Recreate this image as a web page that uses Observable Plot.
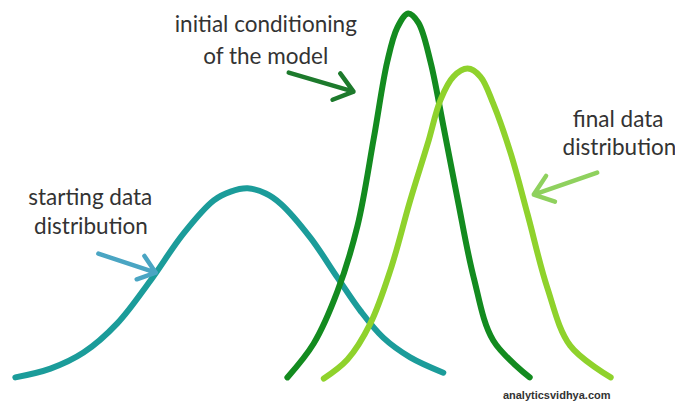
<!DOCTYPE html>
<html>
<head>
<meta charset="utf-8">
<script src="https://cdn.jsdelivr.net/npm/d3@7"></script>
<script src="https://cdn.jsdelivr.net/npm/@observablehq/plot@0.6"></script>
<style>
  html, body { margin: 0; padding: 0; background: #fff; }
  #chart svg { display: block; }
</style>
</head>
<body>
<div id="chart"></div>
<script>
// Curves: x position (arbitrary units 0–10), height (0–1)
const startingX = [0.22, 0.74, 1.23, 1.73, 2.22, 2.71, 3.16, 3.41, 3.66, 3.93, 4.15, 4.59, 4.99, 5.33, 5.67, 6.07, 6.56];
const startingY = [0.003, 0.027, 0.071, 0.151, 0.268, 0.397, 0.488, 0.512, 0.521, 0.507, 0.479, 0.386, 0.277, 0.186, 0.112, 0.058, 0.016];

const initialX = [4.25, 4.64, 4.99, 5.29, 5.53, 5.73, 5.88, 6.04, 6.19, 6.37, 6.56, 6.77, 7.01, 7.30, 7.84];
const initialY = [0.003, 0.096, 0.238, 0.419, 0.658, 0.868, 0.962, 1.0, 0.975, 0.868, 0.693, 0.493, 0.277, 0.104, 0.003];

const finalX = [4.79, 5.14, 5.48, 5.78, 6.07, 6.33, 6.52, 6.71, 6.92, 7.11, 7.30, 7.56, 7.81, 8.10, 8.44, 9.04];
const finalY = [0.0, 0.052, 0.151, 0.299, 0.488, 0.644, 0.764, 0.827, 0.849, 0.827, 0.753, 0.616, 0.449, 0.249, 0.090, 0.003];

// Annotation arrows (start -> tip)
const arrowNames = ["starting", "initial", "final"];
const arrowX1 = [1.45, 4.27, 8.84];
const arrowY1 = [0.342, 0.838, 0.564];
const arrowX2 = [2.30, 5.23, 7.90];
const arrowY2 = [0.290, 0.786, 0.504];

// Labels (one entry per line)
const labelText = ["initial conditioning", "of the model", "final data", "distribution", "starting data", "distribution"];
const labelX = [3.93, 3.93, 9.15, 9.17, 1.33, 1.34];
const labelY = [0.948, 0.863, 0.688, 0.611, 0.474, 0.395];

const watermark = "analyticsvidhya.com";
const watermarkX = 8.24;
const watermarkY = -0.055;

const curveColors = { starting: "#1b9c9a", initial: "#138b1f", final: "#8fd22c" };
const arrowColors = { starting: "#4aa5c3", initial: "#1d7a2c", final: "#8fd15e" };

const toPts = (xs, ys, name) => xs.map((x, i) => ({ x, y: ys[i], name }));
const curves = [
  ...toPts(startingX, startingY, "starting"),
  ...toPts(finalX, finalY, "final"),
  ...toPts(initialX, initialY, "initial")
];
const arrows = arrowNames.map((name, i) => ({ name, x1: arrowX1[i], y1: arrowY1[i], x2: arrowX2[i], y2: arrowY2[i] }));
const labels = labelText.map((t, i) => ({ t, x: labelX[i], y: labelY[i] }));

const chart = Plot.plot({
  width: 675,
  height: 402,
  marginTop: 13,
  marginBottom: 24,
  marginLeft: 0,
  marginRight: 0,
  x: { domain: [0, 10], axis: null },
  y: { domain: [0, 1], axis: null },
  style: { background: "#fff", overflow: "visible" },
  marks: [
    Plot.line(curves.filter(d => d.name === "starting"), { x: "x", y: "y", stroke: curveColors.starting, strokeWidth: 6, curve: "catmull-rom", strokeLinecap: "round" }),
    Plot.line(curves.filter(d => d.name === "initial"), { x: "x", y: "y", stroke: curveColors.initial, strokeWidth: 6, curve: "catmull-rom", strokeLinecap: "round" }),
    Plot.line(curves.filter(d => d.name === "final"), { x: "x", y: "y", stroke: curveColors.final, strokeWidth: 6, curve: "catmull-rom", strokeLinecap: "round" }),
    Plot.arrow(arrows, { x1: "x1", y1: "y1", x2: "x2", y2: "y2", stroke: d => arrowColors[d.name], strokeWidth: 4.5, headLength: 13, headAngle: 75, bend: 0 }),
    Plot.text(labels, { x: "x", y: "y", text: "t", textAnchor: "middle", lineAnchor: "bottom", fontSize: 22.5, fill: "#333", fontFamily: "Lato, 'Open Sans', sans-serif" }),
    Plot.text([watermark], { x: () => watermarkX, y: () => watermarkY, text: d => d, textAnchor: "middle", lineAnchor: "bottom", fontSize: 11, fontWeight: "bold", fill: "#333", fontFamily: "'Liberation Sans', Arial, sans-serif" })
  ]
});
document.getElementById("chart").appendChild(chart);
</script>
</body>
</html>
